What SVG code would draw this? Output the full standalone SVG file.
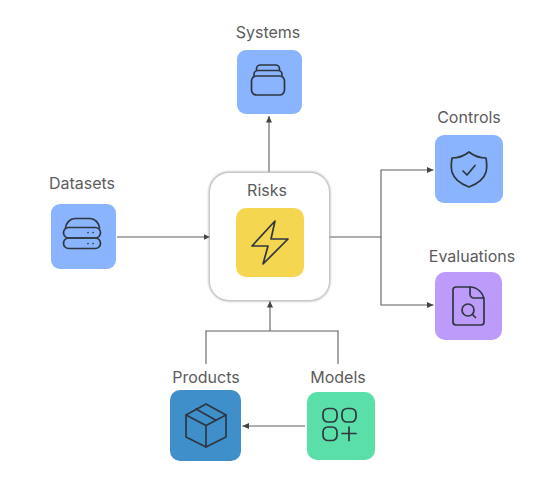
<svg xmlns="http://www.w3.org/2000/svg" width="558" height="496" viewBox="0 0 558 496">
<defs>
<marker id="arr" markerUnits="userSpaceOnUse" markerWidth="8" markerHeight="8" refX="6.500" refY="4" orient="auto"><path d="M0,1 L6.500,4 L0,7 Z" fill="#444"/></marker>
<filter id="sh" x="-10%" y="-10%" width="120%" height="120%"><feGaussianBlur stdDeviation="0.8"/></filter>
</defs>
<style>
text{font-family:Inter,"Liberation Sans",sans-serif;font-size:16px;fill:#5c5c5c;text-anchor:middle}
.c{fill:none;stroke:#5f5f5f;stroke-width:1.1}
.i{fill:none;stroke:#2f3640;stroke-width:1.700;stroke-linejoin:round;stroke-linecap:round}
</style>
<rect width="558" height="496" fill="#fff"/>
<g id="connectors">
<path class="c" d="M269 172V116" marker-end="url(#arr)"/>
<path class="c" d="M117 237H210" marker-end="url(#arr)"/>
<path class="c" d="M329 237H381V170H433.500" marker-end="url(#arr)"/>
<path class="c" d="M381 237V305H433.500" marker-end="url(#arr)"/>
<path class="c" d="M206 364V331H338V364" />
<path class="c" d="M270 331V301" marker-end="url(#arr)"/>
<path class="c" d="M305 426H242.500" marker-end="url(#arr)"/>
</g>
<g id="systems">
<text x="268" y="38">Systems</text>
<rect x="237" y="50" width="65" height="64" rx="9" fill="#8ab4fd"/>
<rect class="i" x="251.500" y="76" width="33" height="19" rx="5"/>
<path class="i" d="M254 76v-1.500a4 4 0 0 1 4-4h20a4 4 0 0 1 4 4v1.500M256.500 70.500v-1.500a4 4 0 0 1 4-4h15a4 4 0 0 1 4 4v1.500"/>
</g>
<g id="risks">
<rect x="210" y="173" width="119" height="127" rx="19" fill="none" stroke="#aaa" stroke-width="2.500" filter="url(#sh)"/>
<rect x="210" y="173" width="119" height="127" rx="19" fill="#fff"/>
<text x="267" y="196">Risks</text>
<rect x="236" y="208" width="68" height="69" rx="10" fill="#f5d651"/>
<path class="i" d="M275 221L252 246H268L263 264L288 239H271Z" stroke-width="1.900"/>
</g>
<g id="datasets">
<text x="82" y="189">Datasets</text>
<rect x="51" y="204" width="65" height="65" rx="9" fill="#8ab4fd"/>
<path class="i" d="M65.500 228C66 223 70 218.500 75 218.500H90C95 218.500 99 223 99.500 228"/>
<rect class="i" x="63.500" y="227.500" width="37" height="10.500" rx="5.200"/>
<rect class="i" x="63.500" y="238" width="37" height="10.500" rx="5.200"/>
<path d="M88 232.500h.01M93 232.500h.01M88 243.500h.01M93 243.500h.01" class="i"/>
</g>
<g id="controls">
<text x="469" y="123">Controls</text>
<rect x="435" y="135" width="68" height="68" rx="9" fill="#8ab4fd"/>
<path class="i" d="M469 152C474 156 480 158 486 158C487 164 487 168 486 172C484 179 477 184 469 187C461 184 454 179 452 172C451 168 451 164 452 158C458 158 464 156 469 152Z"/>
<path class="i" d="M463 171L467 175L475 165.500"/>
</g>
<g id="evaluations">
<text x="472" y="262">Evaluations</text>
<rect x="435" y="272" width="67" height="68" rx="10" fill="#bd9bfb"/>
<path class="i" d="M470 287H456a3 3 0 0 0-3 3V322a3 3 0 0 0 3 3H481a3 3 0 0 0 3-3V301C484 293 477 287 470 287Z"/>
<path class="i" d="M470 287V294a4 4 0 0 0 4 4H484"/>
<circle class="i" cx="468" cy="310" r="6"/>
<path class="i" d="M472.500 314.500L475.500 317.500"/>
</g>
<g id="products">
<text x="206" y="383">Products</text>
<rect x="170" y="390" width="71" height="71" rx="10" fill="#3f8fcb"/>
<path class="i" d="M206 404L226 415V437L206 447L186 437V415Z" stroke-width="1.500"/>
<path class="i" d="M186 415L206 425.500L226 415M206 425.500V447" stroke-width="1.500"/>
<path class="i" d="M196 409L215.500 420" stroke-width="1.800"/>
</g>
<g id="models">
<text x="338" y="383">Models</text>
<rect x="307" y="392" width="68" height="68" rx="10" fill="#5bdfa8"/>
<rect class="i" x="323" y="408.500" width="14" height="13.500" rx="5"/>
<rect class="i" x="342" y="408.500" width="14" height="13.500" rx="5"/>
<rect class="i" x="323" y="427" width="14" height="13.500" rx="5"/>
<path class="i" d="M349 427V440.500M342 433.500H356"/>
</g>
</svg>
